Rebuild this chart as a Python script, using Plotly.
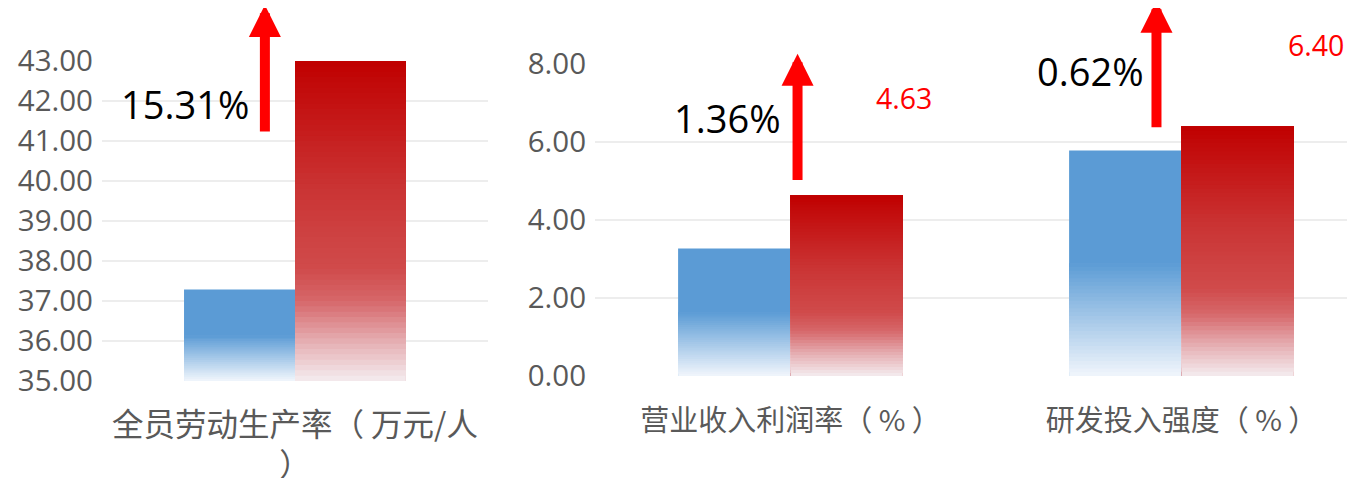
import plotly.graph_objects as go

# ---------------- data ----------------
left_categories = ["全员劳动生产率（ 万元/人<br>）"]
left_prev = [37.29]
left_curr = [43.00]

right_categories = ["营业收入利润率（ % ）", "研发投入强度（ % ）"]
right_prev = [3.27, 5.78]
right_curr = [4.63, 6.40]

left_ticks = [35, 36, 37, 38, 39, 40, 41, 42, 43]
right_ticks = [0, 2, 4, 6, 8]

# ---------------- style ----------------
W, H = 1355, 478
OFF = 8  # page body margin compensation
BLUE = "#5B9BD5"
blue_stops = [(0.0, "#F1F6FC"), (0.5, "#5B9BD5"), (1.0, "#5B9BD5")]
red_stops = [(0.0, "#F4ECEF"), (0.12, "#E6B0B4"), (0.25, "#D6676A"),
             (0.35, "#D04B4B"), (0.6, "#CA3434"), (1.0, "#C00000")]
GRID = "#EDEDED"
TICKC = "#595959"
BARGAP = 0.425


def hx(c):
    c = c.lstrip("#")
    return [int(c[i:i + 2], 16) for i in (0, 2, 4)]


def interp(stops, t):
    for (a, ca), (b, cb) in zip(stops[:-1], stops[1:]):
        if a <= t <= b:
            u = 0 if b == a else (t - a) / (b - a)
            A, B = hx(ca), hx(cb)
            return "rgb(%d,%d,%d)" % tuple(round(A[i] + (B[i] - A[i]) * u) for i in range(3))
    return stops[-1][1]


fig = go.Figure()


def add_series(cats, vals, stops, floor, xa, ya, group, solid, f_end, n):
    # real bar for the data
    fig.add_trace(go.Bar(x=cats, y=vals, marker=dict(color=solid, line=dict(width=0)),
                         offsetgroup=group, xaxis=xa, yaxis=ya, showlegend=False,
                         hoverinfo="x+y"))
    # gradient overlay slices (render only); each slice reaches up to f_end so that
    # the next one overlaps it and no seams appear
    for k in range(n):
        f0 = f_end * k / n
        fm = f_end * (k + 0.5) / n
        fig.add_trace(go.Bar(
            x=cats,
            y=[(v - floor) * (f_end - f0) for v in vals],
            base=[floor + (v - floor) * f0 for v in vals],
            marker=dict(color=interp(stops, fm), line=dict(width=0)),
            offsetgroup=group, xaxis=xa, yaxis=ya, showlegend=False, hoverinfo="skip"))


add_series(left_categories, left_prev, blue_stops, 35, "x", "y", "a", BLUE, 0.5, 24)
add_series(left_categories, left_curr, red_stops, 35, "x", "y", "b", "#C00000", 1.0, 60)
add_series(right_categories, right_prev, blue_stops, 0, "x2", "y2", "a", BLUE, 0.5, 30)
add_series(right_categories, right_curr, red_stops, 0, "x2", "y2", "b", "#C00000", 1.0, 60)

px = lambda p: (p - OFF) / W
py = lambda p: 1 - (p - OFF) / H

axis_common = dict(showline=False, zeroline=False, ticks="", fixedrange=True, automargin=False)

fig.update_layout(
    template=None,
    width=W, height=H,
    margin=dict(l=0, r=0, t=0, b=0, pad=0, autoexpand=False),
    paper_bgcolor="white", plot_bgcolor="white",
    barmode="group", bargap=BARGAP, bargroupgap=0,
    showlegend=False,
    xaxis=dict(domain=[px(102), px(488)], anchor="y", type="category",
               range=[-0.5, 0.5], showgrid=False,
               tickfont=dict(family="Noto Sans CJK SC", size=31.5, color=TICKC),
               ticklabelstandoff=22, **axis_common),
    yaxis=dict(domain=[py(381), py(61)], anchor="x", range=[35, 43],
               tickvals=left_ticks, tickformat=".2f", showgrid=True,
               gridcolor=GRID, gridwidth=1.5,
               tickfont=dict(family="Open Sans", size=29.5, color=TICKC),
               ticklabelstandoff=8, **axis_common),
    xaxis2=dict(domain=[px(595), 1], anchor="y2", type="category",
                range=[-0.5, -0.5 + (W + OFF - 595) / 391], showgrid=False,
                tickfont=dict(family="Noto Sans CJK SC", size=29, color=TICKC),
                ticklabelstandoff=25, **axis_common),
    yaxis2=dict(domain=[py(376), py(64)], anchor="x2", range=[0, 8],
                tickvals=right_ticks, tickformat=".2f", showgrid=True,
                gridcolor=GRID, gridwidth=1.5,
                tickfont=dict(family="Open Sans", size=29.5, color=TICKC),
                ticklabelstandoff=8, **axis_common),
)

ann = []
# growth labels (computed from data)
left_growth = (left_curr[0] / left_prev[0] - 1) * 100
right_diff = [c - p for c, p in zip(right_curr, right_prev)]

ann.append(dict(x=-0.285, y=41.93, xref="x", yref="y", showarrow=False,
                text="%.2f%%" % left_growth,
                font=dict(family="Open Sans", size=38, color="black")))
ann.append(dict(x=-0.161, y=6.62, xref="x2", yref="y2", showarrow=False,
                text="%.2f%%" % right_diff[0],
                font=dict(family="Open Sans", size=38, color="black")))
ann.append(dict(x=0.767, y=7.83, xref="x2", yref="y2", showarrow=False,
                text="%.2f%%" % right_diff[1],
                font=dict(family="Open Sans", size=38, color="black")))

# red value labels tied to the values
value_label_offsets = [(0.289, 97), (1.345, 81)]
for v, (xo, ys) in zip(right_curr, value_label_offsets):
    ann.append(dict(x=xo, y=v, xref="x2", yref="y2", showarrow=False,
                    text="%.2f" % v, yshift=ys,
                    font=dict(family="Open Sans", size=28.5, color="#FF0000")))

# arrows
arrows = [("x", "y", -0.078, 41.2, 44.4),
          ("x2", "y2", 0.018, 4.99, 8.26),
          ("x2", "y2", 0.936, 6.34, 9.62)]
for xr, yr, xa_, y0, y1 in arrows:
    ann.append(dict(x=xa_, y=y1, ax=xa_, ay=y0, xref=xr, yref=yr, axref=xr, ayref=yr,
                    showarrow=True, text="", arrowhead=2, arrowsize=0.64, arrowwidth=10,
                    arrowcolor="#FF0000", standoff=0))

fig.update_layout(annotations=ann)

fig.write_html("out.html")
